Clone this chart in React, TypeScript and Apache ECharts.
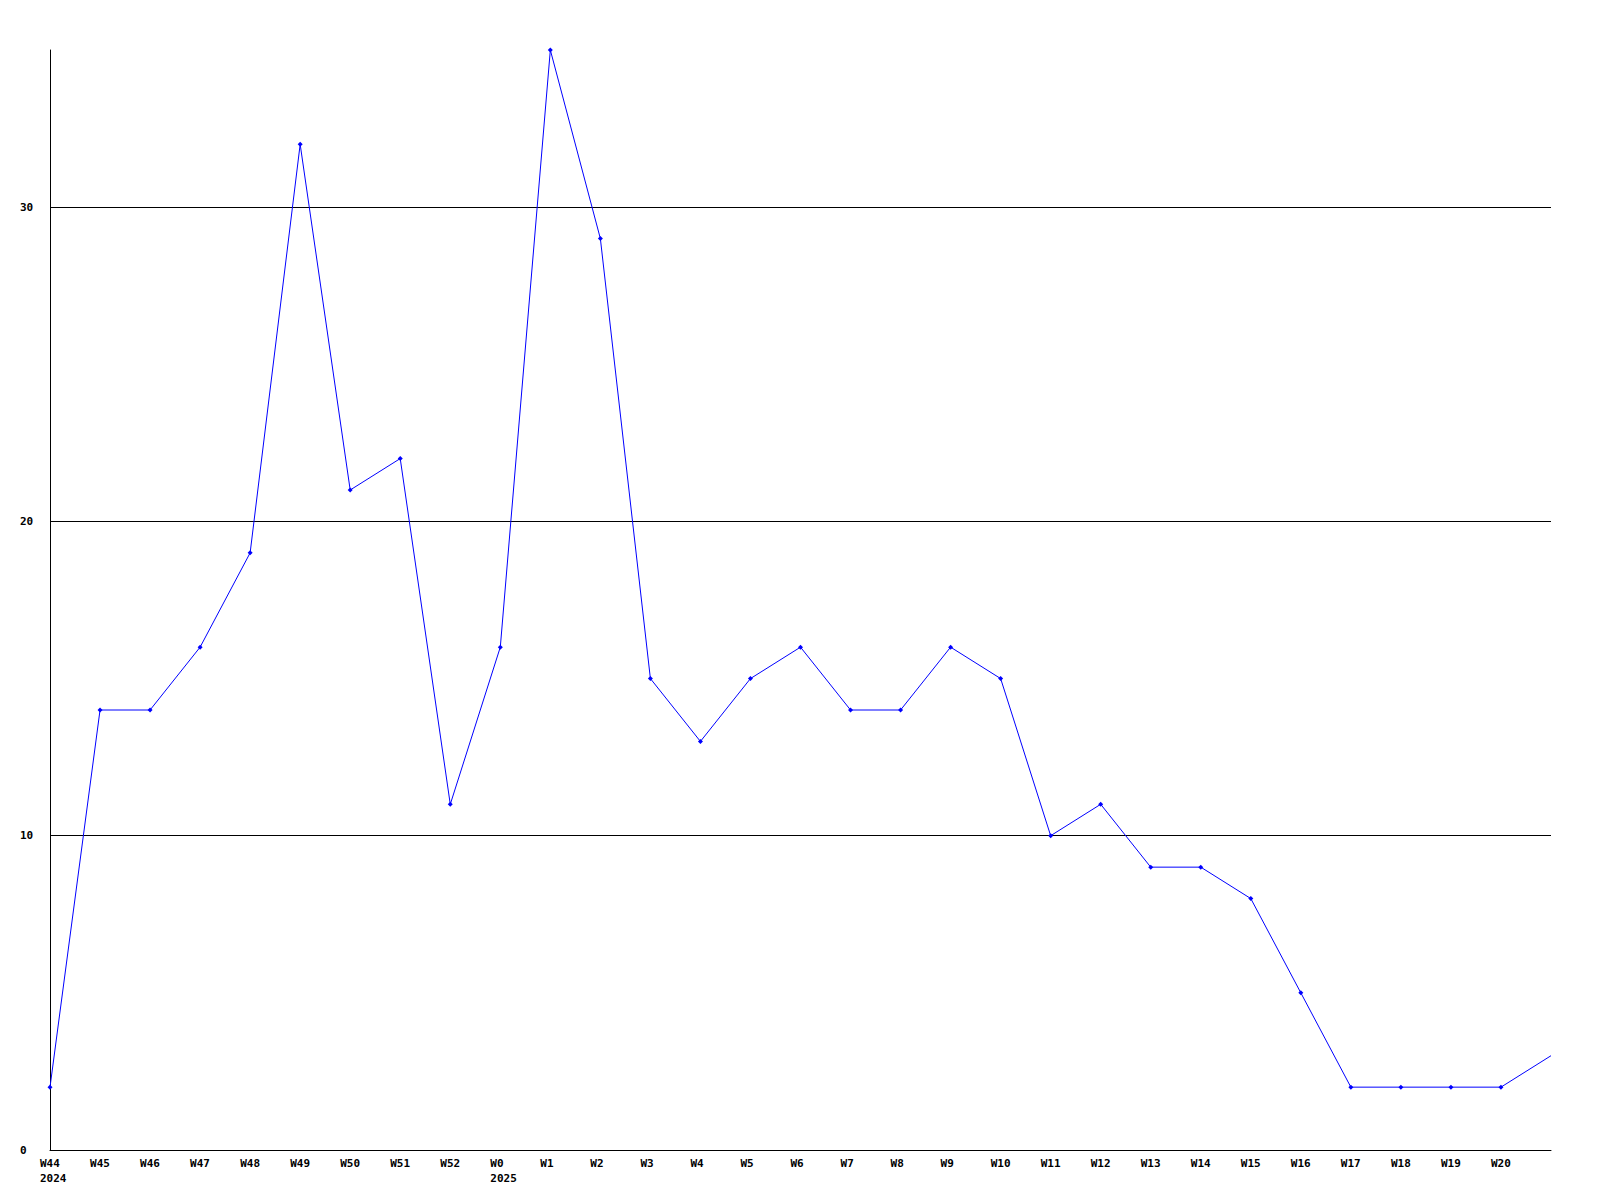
import React, { useEffect, useRef } from "react";
import * as echarts from "echarts";

const weeks = [
  "W44", "W45", "W46", "W47", "W48", "W49", "W50", "W51", "W52",
  "W0", "W1", "W2", "W3", "W4", "W5", "W6", "W7", "W8", "W9", "W10",
  "W11", "W12", "W13", "W14", "W15", "W16", "W17", "W18", "W19", "W20", "",
];
const years: Record<string, string> = { W44: "2024", W0: "2025" };
const values = [
  2, 14, 14, 16, 19, 32, 21, 22, 11, 16, 35, 29, 15, 13, 15, 16, 14, 14, 16, 15,
  10, 11, 9, 9, 8, 5, 2, 2, 2, 2, 3,
];
const yMin = 0;
const yMax = 35;
const yInterval = 10;

const FONT = "DejaVu Sans Mono";

export default function App() {
  const ref = useRef<HTMLDivElement>(null);
  useEffect(() => {
    if (!ref.current) return;
    const chart = echarts.init(ref.current, undefined, { renderer: "svg" });
    const seriesData = values.map((v, i) =>
      weeks[i] ? v : { value: v, symbol: "none" }
    );
    chart.setOption({
      animation: false,
      backgroundColor: "#ffffff",
      grid: { left: 50, right: 49, top: 50, bottom: 50, containLabel: false },
      xAxis: {
        type: "category",
        data: weeks,
        boundaryGap: false,
        axisLine: { show: true, lineStyle: { color: "#000", width: 1 } },
        axisTick: { show: false },
        splitLine: { show: false },
        axisLabel: {
          interval: 0,
          margin: 6,
          align: "center",
          fontFamily: FONT,
          fontWeight: "bold",
          fontSize: 11,
          color: "#000",
          lineHeight: 15,
          formatter: (v: string) => {
            if (!v) return "";
            const y = years[v];
            return y ? `{a|${v}}\n{a|${y}}` : `{a|${v}}`;
          },
          rich: {
            a: {
              width: 20,
              align: "left",
              fontFamily: FONT,
              fontWeight: "bold",
              fontSize: 11,
              color: "#000",
              lineHeight: 15,
            },
          },
        },
      },
      yAxis: {
        type: "value",
        min: yMin,
        max: yMax,
        interval: yInterval,
        axisLine: { show: true, lineStyle: { color: "#000", width: 1 } },
        axisTick: { show: false },
        splitLine: {
          show: true,
          showMinLine: false,
          showMaxLine: false,
          lineStyle: { color: "#000", width: 1 },
        },
        axisLabel: {
          showMaxLabel: false,
          margin: 30,
          align: "left",
          fontFamily: FONT,
          fontWeight: "bold",
          fontSize: 11,
          color: "#000",
        },
      },
      series: [
        {
          type: "line",
          data: seriesData,
          smooth: false,
          symbol: "diamond",
          symbolSize: 5,
          showSymbol: true,
          itemStyle: { color: "#0000ff" },
          lineStyle: { color: "#0000ff", width: 1 },
        },
      ],
    });
    return () => chart.dispose();
  }, []);
  return (
    <div
      ref={ref}
      style={{ position: "fixed", left: 0, top: 0, width: 1600, height: 1200 }}
    />
  );
}
